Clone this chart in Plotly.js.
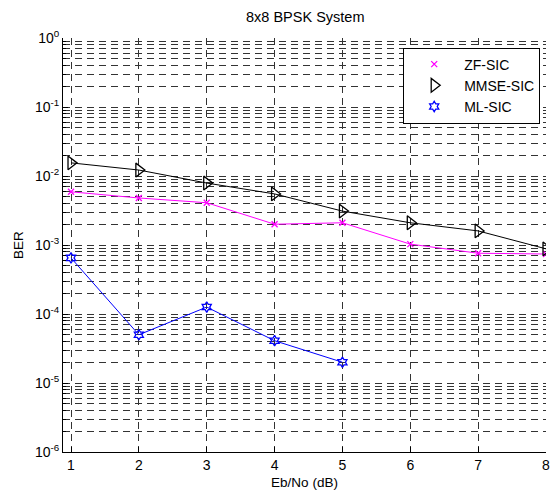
<!DOCTYPE html>
<html>
<head>
<meta charset="utf-8">
<script src="https://cdn.plot.ly/plotly-3.0.1.min.js"></script>
<style>html,body{margin:0;padding:0;background:#fff;}#chart{width:550px;height:495px;}</style>
</head>
<body>
<div id="chart"></div>
<script>
const ebno = [1, 2, 3, 4, 5, 6, 7, 8];
const zfSic = [0.0059, 0.0048, 0.0041, 0.0020, 0.0021, 0.00103, 0.00076, 0.00074];
const mmseSic = [0.0155, 0.0122, 0.0079, 0.0055, 0.0031, 0.0021, 0.0016, 0.00088];
const ebnoMl = [1, 2, 3, 4, 5];
const mlSic = [0.00065, 0.000050, 0.000126, 0.000041, 0.000020];
const yTickVals = [1e-6, 1e-5, 1e-4, 1e-3, 1e-2, 1e-1, 1];
const yTickText = ['10<sup>-6</sup>', '10<sup>-5</sup>', '10<sup>-4</sup>', '10<sup>-3</sup>', '10<sup>-2</sup>', '10<sup>-1</sup>', '10<sup>0</sup>'];
const xTickVals = [1, 2, 3, 4, 5, 6, 7, 8];

const series = [
  {name: 'ZF-SIC', x: ebno, y: zfSic, color: '#ff00ff', symbol: 'x-thin-open', size: 6},
  {name: 'MMSE-SIC', x: ebno, y: mmseSic, color: '#000000', symbol: 'triangle-right-open', size: 12},
  {name: 'ML-SIC', x: ebnoMl, y: mlSic, color: '#0000ff', symbol: 'hexagram-open', size: 8}
];

const traces = [];
series.forEach(s => {
  traces.push({x: s.x, y: s.y, mode: 'lines', line: {color: s.color, width: 1}, showlegend: false, hoverinfo: 'skip'});
});
series.forEach(s => {
  traces.push({x: s.x, y: s.y, name: s.name, mode: 'markers',
    marker: {symbol: s.symbol, size: s.size, color: s.color, line: {color: s.color, width: 1.3}}});
});

const gridDash = '7px,5px';
const layout = {
  width: 550, height: 495,
  margin: {l: 63, r: 4, t: 37.5, b: 43},
  paper_bgcolor: '#ffffff', plot_bgcolor: '#ffffff',
  font: {family: 'Liberation Sans, Arial, sans-serif', size: 14, color: '#000'},
  title: {text: '8x8 BPSK System', x: 0.555, xanchor: 'center', y: 0.965, yanchor: 'middle', font: {size: 14.5}},
  xaxis: {
    range: [0.882, 8], tickvals: xTickVals, ticktext: xTickVals.map(String),
    ticks: 'inside', ticklen: 5, tickcolor: '#000', ticklabeloverflow: 'allow',
    showline: true, linecolor: '#000', linewidth: 1, mirror: false,
    showgrid: true, gridcolor: '#333', griddash: gridDash, gridwidth: 1,
    zeroline: false, tickfont: {size: 14},
    title: {text: 'Eb/No (dB)', font: {size: 13.5}, standoff: 5}
  },
  yaxis: {
    type: 'log', range: [-6, 0], tickvals: yTickVals, ticktext: yTickText,
    ticks: 'inside', ticklen: 5, tickcolor: '#000',
    showline: true, linecolor: '#000', linewidth: 1, mirror: false,
    showgrid: true, gridcolor: '#333', griddash: gridDash, gridwidth: 1,
    zeroline: false, tickfont: {size: 14},
    minor: {dtick: 'D1', ticks: 'inside', ticklen: 3, tickcolor: '#000', showgrid: true, gridcolor: '#333', griddash: gridDash, gridwidth: 1},
    title: {text: 'BER', font: {size: 13.5}, standoff: 8}
  },
  legend: {
    x: 0.988, xanchor: 'right', y: 0.977, yanchor: 'top',
    bgcolor: '#ffffff', bordercolor: '#000', borderwidth: 1,
    font: {size: 14}, tracegroupgap: 0, itemwidth: 50
  },
  showlegend: true
};

Plotly.newPlot('chart', traces, layout, {displayModeBar: false, staticPlot: true});
</script>
</body>
</html>
